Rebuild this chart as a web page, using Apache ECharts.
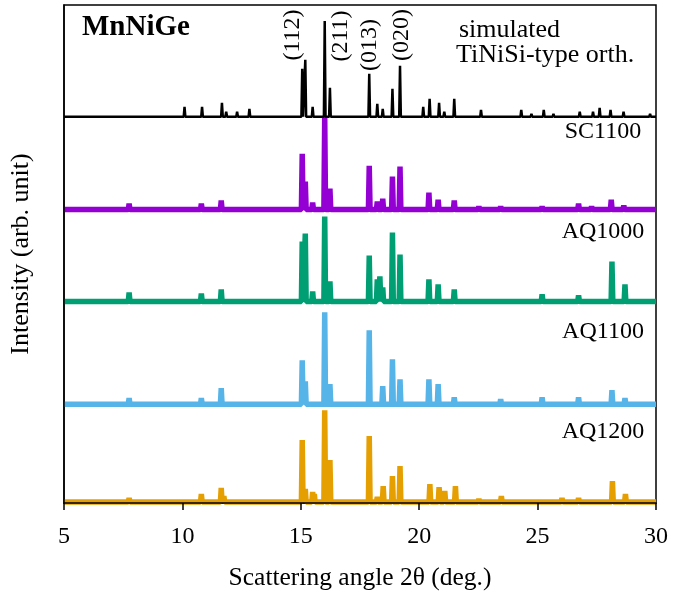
<!DOCTYPE html>
<html>
<head>
<meta charset="utf-8">
<script src="https://cdn.jsdelivr.net/npm/echarts@6/dist/echarts.min.js"></script>
<style>
  html, body { margin: 0; padding: 0; background: #fff; }
  #chart { width: 688px; height: 596px; }
</style>
</head>
<body>
<div id="chart"></div>
<script>
// peak lists: [2theta (deg), height above the trace's own baseline]
const simPeaks = [[10.09,10],[10.83,10],[11.67,14],[11.85,5],[12.31,5],[12.83,8],
  [15.06,48],[15.19,57],[15.50,10],[16.01,96],[16.23,29],[17.89,43],[18.23,13],[18.46,8],
  [18.87,28],[19.19,51],[20.17,10],[20.44,18],[20.84,14],[21.06,5],[21.48,18],[22.61,7],
  [23.20,2],[23.44,2],[23.72,2],[24.31,7],[24.74,3],[25.26,7],[25.67,3],[26.22,2],[26.78,5],
  [27.34,5],[27.62,9],[28.08,7],[28.63,5],[29.75,3]];
const sc1100Peaks = [[7.75,6],[10.80,6],[11.64,9],[15.06,56],[15.19,28],[15.50,7],[16.01,93],
  [16.23,21],[17.89,44],[18.23,8],[18.46,11],[18.87,33],[19.19,43],[20.41,17],[20.80,10],
  [21.48,9],[22.52,3],[23.44,3],[25.19,3],[26.73,6],[27.28,3],[28.11,10],[28.64,4]];
const aq1000Peaks = [[7.75,9],[10.80,8],[11.64,12],[15.06,60],[15.19,68],[15.50,10],[16.01,85],
  [16.23,20],[17.89,46],[18.23,22],[18.34,25],[18.46,14],[18.87,69],[19.19,47],[20.41,22],
  [20.80,17],[21.48,12],[25.19,7],[26.73,6],[28.14,40],[28.69,17]];
const aq1100Peaks = [[7.75,6],[10.80,6],[11.64,16],[15.06,44],[15.19,23],[16.01,92],[16.23,20],
  [17.89,74],[18.46,18],[18.87,45],[19.19,25],[20.41,25],[20.80,20],[21.48,7],[23.44,5],
  [25.19,7],[26.73,7],[28.14,14],[28.69,6]];
const aq1200Peaks = [[7.75,4],[10.80,8],[11.64,14],[11.75,6],[15.06,62],[15.19,13],[15.50,10],
  [15.57,8],[16.01,92],[16.23,42],[17.89,66],[18.23,5],[18.48,16],[18.87,26],[19.19,36],
  [20.45,18],[20.84,15],[21.08,11],[21.53,16],[22.52,3],[23.47,6],[26.03,4],[26.73,4],
  [28.16,21],[28.71,8]];

// vertical offsets of the stacked traces
const offsets = { sim: 387, sc1100: 294, aq1000: 202, aq1100: 99, aq1200: 1 };
const xTicks = [5, 10, 15, 20, 25, 30];

// each peak drawn as a narrow stick on the trace's baseline
function trace(peaks, off) {
  const w = 0.035;
  const pts = [[5, off]];
  peaks.forEach(function (p) {
    pts.push([p[0] - w, off], [p[0], off + p[1]], [p[0] + w, off]);
  });
  pts.push([30, off]);
  return pts;
}

const serif = '"Liberation Serif", "Times New Roman", serif';
const chart = echarts.init(document.getElementById('chart'));

function lineSeries(name, peaks, off, color, width) {
  return {
    name: name,
    type: 'line',
    data: trace(peaks, off),
    symbol: 'none',
    animation: false,
    lineStyle: { color: color, width: width, join: 'bevel' }
  };
}

function label(text, x, y, size, opts) {
  opts = opts || {};
  const align = opts.align || 'center';
  return {
    type: 'text', x: x, y: y, rotation: opts.rotation || 0,
    style: {
      text: text, font: (opts.bold ? 'bold ' : '') + size + 'px ' + serif, fill: '#000',
      align: align, verticalAlign: 'middle', textAlign: align, textVerticalAlign: 'middle'
    }
  };
}

chart.setOption({
  animation: false,
  grid: { left: 64, right: 32, top: 5, bottom: 92, show: true, borderColor: '#000', borderWidth: 1.5 },
  xAxis: {
    type: 'value', min: xTicks[0], max: xTicks[xTicks.length - 1], interval: 5, z: 5,
    name: 'Scattering angle 2θ (deg.)', nameLocation: 'middle', nameGap: 62,
    nameTextStyle: { fontFamily: serif, fontSize: 25.5, color: '#000' },
    axisLine: { lineStyle: { color: '#000', width: 1.5 } },
    axisTick: { inside: false, length: 7, lineStyle: { color: '#000', width: 1.5 } },
    axisLabel: { margin: 22, fontFamily: serif, fontSize: 24, color: '#000' },
    splitLine: { show: false }
  },
  yAxis: {
    type: 'value', min: 0, max: 499, z: 5,
    name: 'Intensity (arb. unit)', nameLocation: 'middle', nameGap: 30,
    nameTextStyle: { fontFamily: serif, fontSize: 26, color: '#000' },
    axisLine: { show: true, lineStyle: { color: '#000', width: 1.5 } },
    axisTick: { show: false },
    axisLabel: { show: false },
    splitLine: { show: false }
  },
  series: [
    lineSeries('AQ1200', aq1200Peaks, offsets.aq1200, '#E69F00', 5.5),
    lineSeries('AQ1100', aq1100Peaks, offsets.aq1100, '#56B4E9', 5.5),
    lineSeries('AQ1000', aq1000Peaks, offsets.aq1000, '#009E73', 5.5),
    lineSeries('SC1100', sc1100Peaks, offsets.sc1100, '#9400D3', 5.5),
    lineSeries('simulated', simPeaks, offsets.sim, '#000000', 2.5)
  ],
  graphic: [
    label('MnNiGe', 82, 28, 29, { bold: true, align: 'left' }),
    label('simulated', 459, 30, 26, { align: 'left' }),
    label('TiNiSi-type orth.', 456, 55, 26, { align: 'left' }),
    label('(112)', 293, 35, 24, { rotation: Math.PI / 2 }),
    label('(211)', 341, 36, 24, { rotation: Math.PI / 2 }),
    label('(013)', 370, 45, 24, { rotation: Math.PI / 2 }),
    label('(020)', 402, 35, 24, { rotation: Math.PI / 2 }),
    label('SC1100', 603, 132, 24),
    label('AQ1000', 603, 232, 24),
    label('AQ1100', 603, 332, 24),
    label('AQ1200', 603, 432, 24)
  ]
});
</script>
</body>
</html>
